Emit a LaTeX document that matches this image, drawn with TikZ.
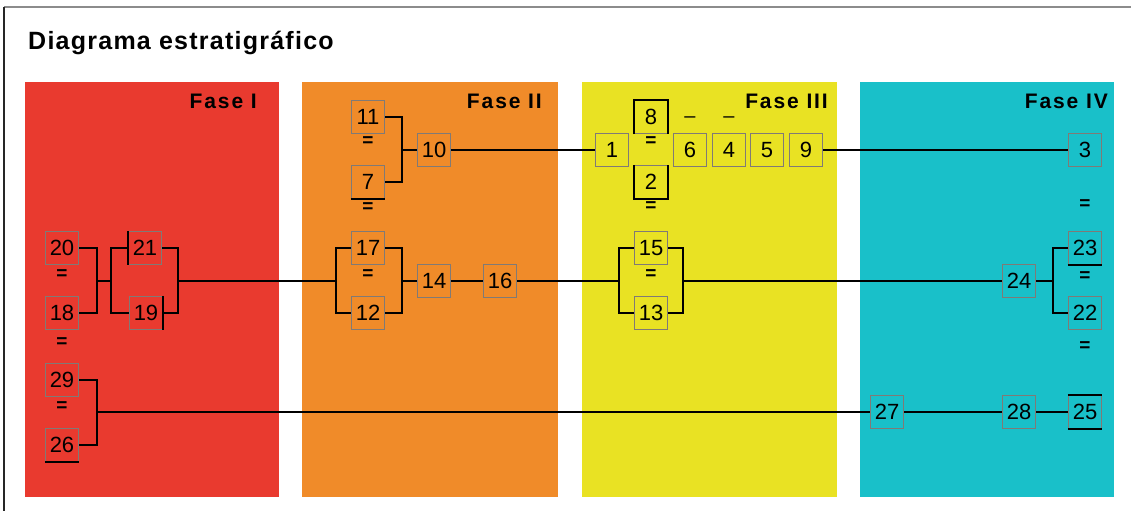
\documentclass[tikz,border=0pt]{standalone}
\usepackage{fontspec}
\setmainfont{Liberation Sans}
\definecolor{pred}{RGB}{233,58,47}
\definecolor{porange}{RGB}{240,139,41}
\definecolor{pyellow}{RGB}{233,226,35}
\definecolor{pcyan}{RGB}{25,192,201}
\definecolor{boxgray}{RGB}{128,122,118}
\definecolor{framegray}{RGB}{140,140,140}
\begin{document}
\begin{tikzpicture}[x=1pt,y=-1pt,
  box/.style={draw=boxgray,line width=1.3pt,minimum width=33pt,minimum height=33pt,inner sep=0pt,
    font=\fontsize{22}{22}\selectfont},
  eqsign/.style={inner sep=0pt,font=\bfseries\fontsize{19}{19}\selectfont},
  dashsign/.style={inner sep=0pt,font=\fontsize{20}{20}\selectfont},
  phase/.style={inner sep=0pt,anchor=base east,font=\bfseries\fontsize{21}{21}\selectfont},
  conn/.style={draw=black,line width=2pt},
  blackedge/.style={draw=black,line width=1.4pt}]
\useasboundingbox (0,0) rectangle (1131,511);
\fill[white] (0,0) rectangle (1131,511);
% frame
\draw[framegray,line width=1.5pt] (4,7) -- (1131,7);
\draw[black!85,line width=1.5pt] (4,7) -- (4,511);
% title
\node[inner sep=0pt,anchor=base west,font=\bfseries\fontsize{25}{25}\selectfont] (title) at (28,49) {\addfontfeature{LetterSpace=5}Diagrama estratigráfico};
% panels
\fill[pred] (25,82) rectangle (279,497);
\fill[porange] (302,82) rectangle (558,497);
\fill[pyellow] (582,82) rectangle (837,497);
\fill[pcyan] (860,82) rectangle (1114,497);
\node[phase] (f1) at (257,108) {\addfontfeature{LetterSpace=9}Fase I};
\node[phase] (f2) at (542,108) {\addfontfeature{LetterSpace=9}Fase II};
\node[phase] (f3) at (828,108) {\addfontfeature{LetterSpace=9}Fase III};
\node[phase] (f4) at (1108,108) {\addfontfeature{LetterSpace=9}Fase IV};
% row 1 boxes
\node[box] (n11) at (368,117) {11};
\node[box] (n7) at (368,182) {7};
\node[box] (n10) at (434,150) {10};
\node[box] (n1) at (612,150) {1};
\node[box] (n8) at (651,117) {8};
\node[box] (n2) at (651,182) {2};
\node[box] (n6) at (690,150) {6};
\node[box] (n4) at (729,150) {4};
\node[box] (n5) at (767,150) {5};
\node[box] (n9) at (806,150) {9};
\node[box] (n3) at (1085,150) {3};
\node[eqsign] (q1) at (368,142) {=};
\node[eqsign] (q2) at (368,208) {=};
\node[eqsign] (q3) at (651,142) {=};
\node[eqsign] (q4) at (651,207) {=};
\node[eqsign] (q5) at (1085,205) {=};
\node[dashsign] (d1) at (690,120) {–};
\node[dashsign] (d2) at (729,120) {–};
% row 2 boxes
\node[box] (n20) at (62,248) {20};
\node[box] (n18) at (62,313) {18};
\node[box] (n21) at (145,248) {21};
\node[box] (n19) at (146,313) {19};
\node[box] (n17) at (368,248) {17};
\node[box] (n12) at (368,313) {12};
\node[box] (n14) at (434,281) {14};
\node[box] (n16) at (500,281) {16};
\node[box] (n15) at (651,248) {15};
\node[box] (n13) at (651,313) {13};
\node[box] (n24) at (1019,281) {24};
\node[box] (n23) at (1085,248) {23};
\node[box] (n22) at (1085,313) {22};
\node[eqsign] (q6) at (62,275) {=};
\node[eqsign] (q7) at (62,343) {=};
\node[eqsign] (q8) at (368,275) {=};
\node[eqsign] (q9) at (651,275) {=};
\node[eqsign] (q10) at (1085,277) {=};
\node[eqsign] (q11) at (1085,347) {=};
% row 3 boxes
\node[box] (n29) at (62,380) {29};
\node[box] (n26) at (62,445) {26};
\node[box] (n27) at (887,412) {27};
\node[box] (n28) at (1019,412) {28};
\node[box] (n25) at (1085,412) {25};
\node[eqsign] (q12) at (62,407) {=};
% bracket points
\coordinate (b1) at (402,150);
\coordinate (b2) at (97,281);
\coordinate (b3) at (111,281);
\coordinate (b4) at (178,281);
\coordinate (b5) at (336,281);
\coordinate (b6) at (402,281);
\coordinate (b7) at (619,281);
\coordinate (b8) at (683,281);
\coordinate (b9) at (1053,281);
\coordinate (b10) at (97,412);
% connectors row 1
\draw[conn] (n11.east) -| (b1) |- (n7.east);
\draw[conn] (b1) -- (n10.west);
\draw[conn] (n10.east) -- (n1.west);
\draw[conn] (n9.east) -- (n3.west);
% connectors row 2
\draw[conn,line width=2.4pt] (n20.east) -| (b2) |- (n18.east);
\draw[conn] (b2) -- (b3);
\draw[conn] (n21.west) -| (b3) |- (n19.west);
\draw[conn] (n21.east) -| (b4) |- (n19.east);
\draw[conn] (b4) -- (b5);
\draw[conn,line width=2.4pt] (n17.west) -| (b5) |- (n12.west);
\draw[conn] (n17.east) -| (b6) |- (n12.east);
\draw[conn] (b6) -- (n14.west);
\draw[conn] (n14.east) -- (n16.west);
\draw[conn] (n16.east) -- (b7);
\draw[conn] (n15.west) -| (b7) |- (n13.west);
\draw[conn] (n15.east) -| (b8) |- (n13.east);
\draw[conn] (b8) -- (n24.west);
\draw[conn] (n24.east) -- (b9);
\draw[conn] (n23.west) -| (b9) |- (n22.west);
% connectors row 3
\draw[conn,line width=2.4pt] (n29.east) -| (b10) |- (n26.east);
\draw[conn] (b10) -- (n27.west);
\draw[conn] (n27.east) -- (n28.west);
\draw[conn] (n28.east) -- (n25.west);
% black box edges
\draw[blackedge] (n8.south west) |- (n8.north east) -- (n8.south east);
\draw[blackedge] (n2.north west) |- (n2.south east) -- (n2.north east);
\draw[blackedge] (n7.south west) -- (n7.south east);
\draw[blackedge] (n21.north west) -- (n21.south west);
\draw[blackedge] (n19.north east) -- (n19.south east);
\draw[blackedge] (n23.south west) -- (n23.south east);
\draw[blackedge] (n25.north west) -- (n25.north east);
\draw[blackedge] (n25.south west) -- (n25.south east);
\draw[blackedge] (n26.south west) -- (n26.south east);
\end{tikzpicture}
\end{document}
